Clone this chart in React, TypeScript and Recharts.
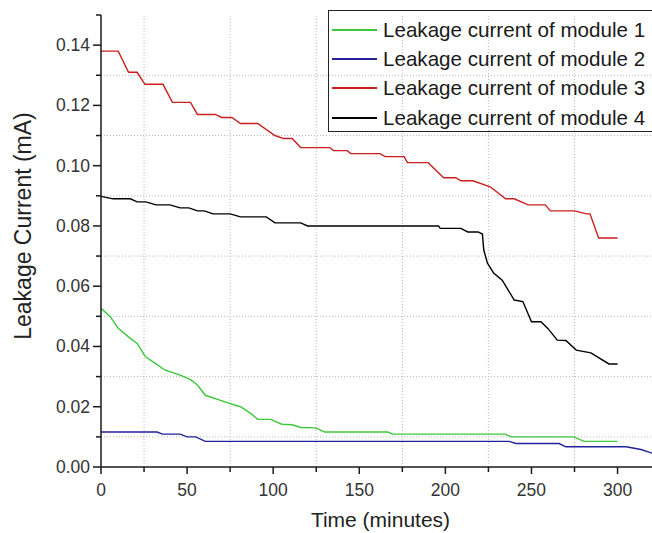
import { LineChart, Line, XAxis, YAxis, ReferenceLine, Legend } from 'recharts';

// Leakage current readings (mA) against elapsed time (minutes), one pair of arrays per module
const m1Time = [0, 5.4, 10, 17, 21, 25.8, 31.6, 37, 46, 52, 56, 60.6, 69, 78, 81, 87, 91, 98.5, 105, 111, 116, 124.6, 130, 166.5, 169.3, 235, 238, 274.6, 280.5, 300];
const m1Current = [0.0527, 0.0499, 0.046, 0.0427, 0.041, 0.0366, 0.0344, 0.0322, 0.0305, 0.029, 0.0272, 0.0238, 0.0222, 0.0205, 0.02, 0.0178, 0.0158, 0.0158, 0.0142, 0.014, 0.0131, 0.013, 0.0116, 0.0116, 0.0109, 0.0109, 0.01, 0.01, 0.0085, 0.0085];

const m2Time = [0, 32.6, 35.7, 46, 50, 55, 60.6, 237, 241, 266, 270, 305, 313.6, 320];
const m2Current = [0.0116, 0.0116, 0.0109, 0.0109, 0.01, 0.01, 0.0085, 0.0085, 0.0078, 0.0078, 0.0067, 0.0067, 0.0058, 0.0046];

const m3Time = [0, 10, 16, 21, 25.5, 36, 41.5, 52, 56, 66.5, 70, 76, 81, 91, 101, 106, 111, 116, 133, 135, 143, 145, 162, 165, 176, 178, 190, 199, 206, 209, 216, 226, 235, 240, 248, 258, 261, 275, 282, 284, 289, 300];
const m3Current = [0.138, 0.138, 0.131, 0.131, 0.127, 0.127, 0.121, 0.121, 0.117, 0.117, 0.116, 0.116, 0.114, 0.114, 0.11, 0.109, 0.109, 0.106, 0.106, 0.105, 0.105, 0.104, 0.104, 0.103, 0.103, 0.101, 0.101, 0.096, 0.096, 0.095, 0.095, 0.093, 0.089, 0.089, 0.087, 0.087, 0.085, 0.085, 0.084, 0.084, 0.076, 0.076];

const m4Time = [0, 7, 17, 21, 26, 32, 40, 46, 51, 56, 60, 65, 75, 81, 96, 101, 116, 120, 196, 197, 209, 213, 219, 221.5, 222.3, 224.4, 228, 233, 240, 245, 250, 255.5, 259.5, 265, 270, 276, 284.5, 295, 300];
const m4Current = [0.0898, 0.089, 0.089, 0.088, 0.088, 0.087, 0.087, 0.086, 0.086, 0.085, 0.085, 0.084, 0.084, 0.083, 0.083, 0.081, 0.081, 0.08, 0.08, 0.0792, 0.0792, 0.078, 0.078, 0.0773, 0.072, 0.0677, 0.0644, 0.062, 0.0554, 0.0549, 0.0482, 0.0482, 0.046, 0.0421, 0.042, 0.0388, 0.0379, 0.0342, 0.0342];

const seriesNames = [
  'Leakage current of module 1',
  'Leakage current of module 2',
  'Leakage current of module 3',
  'Leakage current of module 4',
];
const seriesColors = ['#3cc83c', '#22229a', '#cc1e1e', '#000000'];

const xTicks = [0, 25, 50, 75, 100, 125, 150, 175, 200, 225, 250, 275, 300];
const yTicks = [0, 0.01, 0.02, 0.03, 0.04, 0.05, 0.06, 0.07, 0.08, 0.09, 0.1, 0.11, 0.12, 0.13, 0.14, 0.15];
const xGrid = [25, 75, 125, 175, 225, 275];
const yGrid = [0.01, 0.03, 0.05, 0.07, 0.09, 0.11, 0.13];

const toPoints = (t: number[], v: number[]) => t.map((x, i) => ({ x, y: v[i] }));

const series = [
  toPoints(m1Time, m1Current),
  toPoints(m2Time, m2Current),
  toPoints(m3Time, m3Current),
  toPoints(m4Time, m4Current),
];

const FONT = '"Liberation Sans", Arial, sans-serif';
const AXIS = '#1a1a1a';

const XTick = ({ x, y, payload }: any) => {
  const major = payload.value % 50 === 0;
  return (
    <g>
      <line x1={x} y1={y} x2={x} y2={y + (major ? 7 : 5)} stroke={AXIS} strokeWidth={1.5} />
      {major && (
        <text x={x} y={y + 28.5} textAnchor="middle" fontSize={17.5} fill="#333" fontFamily={FONT}>
          {payload.value}
        </text>
      )}
    </g>
  );
};

const YTick = ({ x, y, payload, index }: any) => {
  const major = index % 2 === 0;
  return (
    <g>
      <line x1={x} y1={y} x2={x - (major ? 8 : 5)} y2={y} stroke={AXIS} strokeWidth={1.5} />
      {major && (
        <text x={x - 11} y={y + 6} textAnchor="end" fontSize={17.5} fill="#333" fontFamily={FONT}>
          {payload.value.toFixed(2)}
        </text>
      )}
    </g>
  );
};

const LegendBox = ({ payload }: any) => (
  <div
    style={{
      border: '1.5px solid #222',
      width: 340,
      height: 122,
      paddingTop: 4,
      boxSizing: 'border-box',
      fontFamily: FONT,
      fontSize: 20.6,
      color: '#1a1a1a',
    }}
  >
    {(payload || []).map((p: any) => (
      <div key={p.value} style={{ display: 'flex', alignItems: 'center', height: 29.3 }}>
        <svg width={54} height={10}>
          <line x1={3} y1={5} x2={48} y2={5} stroke={p.color} strokeWidth={2} />
        </svg>
        <span style={{ whiteSpace: 'nowrap' }}>{p.value}</span>
      </div>
    ))}
  </div>
);

export default function App() {
  return (
    <div style={{ width: 652, height: 533, overflow: 'hidden', background: '#fff' }}>
      <style>{'body{margin:0;overflow:hidden}'}</style>
      <LineChart width={652} height={533} margin={{ top: 15, right: 0, bottom: 0, left: 0 }}>
        {xGrid.map((v) => (
          <ReferenceLine key={'gx' + v} x={v} stroke="#b8b8b8" strokeDasharray="1 2" />
        ))}
        {yGrid.map((v) => (
          <ReferenceLine key={'gy' + v} y={v} stroke="#b8b8b8" strokeDasharray="1 2" />
        ))}
        <XAxis
          type="number"
          dataKey="x"
          domain={[0, 320]}
          ticks={xTicks}
          interval={0}
          allowDataOverflow
          height={66}
          tickSize={0}
          tickMargin={0}
          tickLine={false}
          tick={<XTick />}
          axisLine={{ stroke: AXIS, strokeWidth: 1.5 }}
          label={{
            content: ({ viewBox }: any) => (
              <text
                x={viewBox.x + viewBox.width / 2 + 4}
                y={527}
                textAnchor="middle"
                fontSize={21}
                fill="#222"
                fontFamily={FONT}
              >
                Time (minutes)
              </text>
            ),
          }}
        />
        <YAxis
          type="number"
          dataKey="y"
          domain={[0, 0.15]}
          ticks={yTicks}
          interval={0}
          width={101}
          tickSize={0}
          tickMargin={0}
          tickLine={false}
          tick={<YTick />}
          axisLine={{ stroke: AXIS, strokeWidth: 1.5 }}
          label={{
            content: ({ viewBox }: any) => {
              const cx = viewBox.x + 23;
              const cy = viewBox.y + viewBox.height / 2 - 15;
              return (
                <text
                  x={cx}
                  y={cy}
                  transform={`rotate(-90, ${cx}, ${cy})`}
                  textAnchor="middle"
                  dominantBaseline="central"
                  fontSize={23}
                  fill="#222"
                  fontFamily={FONT}
                >
                  Leakage Current (mA)
                </text>
              );
            },
          }}
        />
        {series.map((data, i) => (
          <Line
            key={seriesNames[i]}
            data={data}
            dataKey="y"
            name={seriesNames[i]}
            type="linear"
            stroke={seriesColors[i]}
            strokeWidth={1.4}
            dot={false}
            activeDot={false}
            isAnimationActive={false}
          />
        ))}
        <Legend
          layout="horizontal"
          verticalAlign="middle"
          align="center"
          content={<LegendBox />}
          wrapperStyle={{ position: 'absolute', left: 328, top: 10, width: 340 }}
        />
      </LineChart>
    </div>
  );
}
